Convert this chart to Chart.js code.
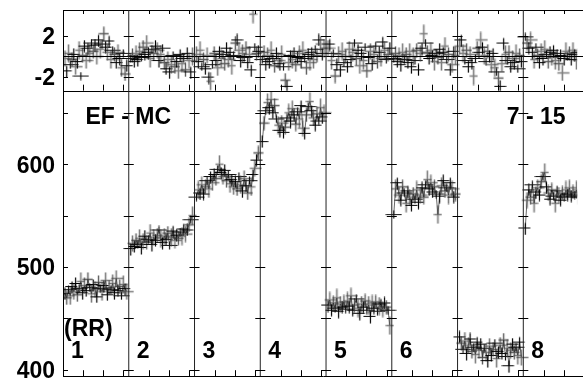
<!DOCTYPE html>
<html><head><meta charset="utf-8">
<script src="https://cdn.jsdelivr.net/npm/chart.js@4/dist/chart.umd.min.js"></script>
<style>html,body{margin:0;padding:0;background:#fff;overflow:hidden}canvas{display:block}</style>
</head><body>
<canvas id="c" width="583" height="382"></canvas>
<script>
// ---- data ----
const columnLabels = ['1','2','3','4','5','6','','8'];
const leftTickLabels = [400, 500, 600];
const leftTickMarks = [400, 450, 500, 550, 600, 650];
const topTickLabels = [-2, 2];
const titleLeft = 'EF - MC';
const titleRight = '7 - 15';
const subLabel = '(RR)';

const col1 = [474,470,478,472,481,476,484,473,479,486,475,482,477,488,480,474,483,478,471,485,479,476,482,487,473,480,478,484,475,489,477,481,472,483,479,476];
const col2 = [518,523,520,526,522,528,519,525,530,524,527,533,522,529,526,531,536,528,524,530,527,533,521,529,535,526,531,528,534,530,537,532,536,541,546,550];
const col3 = [568,575,572,580,571,578,584,576,588,582,590,586,595,600,592,588,594,584,590,581,585,578,583,576,588,580,574,586,579,572,584,578,590,596,604,611];
const col4 = [622,640,652,660,655,663,650,657,644,638,633,640,631,636,645,650,642,654,648,639,651,644,657,635,630,648,656,661,652,645,638,649,642,655,646,650];
const col5 = [463,468,458,465,460,470,457,464,461,466,459,467,462,472,458,463,469,460,455,464,461,467,458,463,452,465,460,466,457,462,464,459,465,461,458,443];
const col6 = [551,576,582,570,565,578,572,562,574,568,560,571,566,575,563,570,577,568,580,585,576,582,573,578,571,551,569,579,584,574,577,570,582,576,568,571];
const col7 = [432,426,420,428,416,424,430,418,422,415,427,419,425,412,421,417,409,423,414,420,426,411,418,424,416,429,413,421,404,419,425,417,422,414,427,412];
const col8 = [538,565,575,568,580,562,573,577,570,583,588,592,578,572,566,575,569,562,574,570,565,572,568,575,571,577,569,573,570,575,568,572,576,570,574,571];

const res1 = [-0.2,-1.4,0.3,-0.8,-0.3,0.2,-1.0,-0.5,0.6,-1.9,0.1,1.0,-0.4,0.8,0.3,1.3,0.5,1.1,0.0,1.6,0.7,1.2,2.2,0.9,0.4,1.5,-0.3,0.6,0.2,-0.6,0.4,-0.2,-1.1,0.3,-1.7,-0.9];
const res2 = [-0.2,0.1,-0.5,0.3,-0.3,0.5,-0.1,0.9,0.2,1.3,0.4,-0.2,0.7,0.3,1.0,0.6,-0.4,0.2,0.8,-0.6,-1.2,-0.3,-1.5,-0.8,0.1,-1.0,-0.5,-1.4,0.2,-0.7,-0.2,-1.3,0.3,-0.4,-1.5,0.0];
const res3 = [0.2,-0.5,0.6,-1.0,-0.3,-1.2,0.1,-2.0,-2.4,-0.8,0.3,-0.4,-1.1,0.5,-0.2,0.2,-0.7,0.8,-0.3,0.4,-0.9,0.1,1.3,1.6,0.6,-0.4,0.3,-0.1,0.8,-0.6,0.2,-1.3,4.1,0.9,0.3,0.5];
const res4 = [-0.3,0.4,-0.8,0.1,-0.5,0.6,-0.2,-0.9,0.3,-0.4,-0.7,0.2,-1.0,-2.3,-2.9,-0.6,0.1,-0.3,0.5,-0.8,-0.1,0.3,-0.5,0.6,-0.2,-1.1,0.2,-0.6,0.4,-0.3,0.7,0.1,1.6,1.2,0.3,0.8];
const res5 = [0.8,1.2,-0.4,0.3,-1.9,-0.8,0.2,-1.3,0.5,-0.6,0.0,-1.0,0.7,-0.3,0.4,1.3,-0.2,0.6,-0.9,0.3,-0.4,0.9,-1.4,-0.1,0.5,-0.7,0.2,1.0,-0.5,0.4,-0.2,1.4,0.6,-0.3,0.2,0.8];
const res6 = [-0.2,0.3,-0.5,0.1,-0.8,0.4,-0.3,0.2,-0.6,0.5,-1.0,0.0,-0.4,0.6,-1.3,0.3,0.8,2.2,1.3,0.4,-0.2,0.6,0.1,-0.5,0.3,-0.1,0.7,-0.6,0.4,1.0,-0.3,0.2,-1.3,-0.8,0.5,0.1];
const res7 = [1.0,1.6,0.3,-0.4,0.6,-1.0,0.2,-0.6,-1.9,-0.2,0.8,0.4,1.6,0.9,0.1,-0.5,0.5,0.0,-0.8,0.3,-1.1,-1.5,-2.1,-2.9,-0.7,1.3,0.2,-0.4,0.4,-1.0,-0.2,-0.6,0.3,-1.2,0.1,-0.5];
const res8 = [1.9,1.3,0.8,1.6,0.4,-0.3,0.9,0.1,-0.6,0.5,-0.2,0.7,0.2,-0.5,0.4,-0.1,0.6,-0.4,0.3,-0.7,0.1,-1.6,-0.2,0.5,0.0,0.3,-0.3,0.6,0.2,-0.4,0.4,0.1,-0.2,0.5,0.0,0.3];

// ---- styling helpers ----
const levels = [col1,col2,col3,col4,col5,col6,col7,col8];
const resids = [res1,res2,res3,res4,res5,res6,res7,res8];
const FONT = 'bold 23px "Liberation Sans", Arial, sans-serif';

function makeCross(hl, hr, vt, vb, color, lw) {
  const cv = document.createElement('canvas');
  const w = Math.max(hl, hr) * 2 + 1, h = Math.max(vt, vb) * 2 + 1;
  cv.width = w; cv.height = h;
  const g = cv.getContext('2d');
  const cx = (w - 1) / 2 + 0.5, cy = (h - 1) / 2 + 0.5;
  g.strokeStyle = color; g.lineWidth = lw;
  g.beginPath();
  g.moveTo(cx - hl, cy); g.lineTo(cx + hr, cy);
  g.moveTo(cx, cy - vt); g.lineTo(cx, cy + vb);
  g.stroke();
  return cv;
}
const marks = [
  makeCross(6, 6, 6, 6, '#000', 1.2),
  makeCross(5, 7, 8, 8, 'rgba(70,70,70,0.7)', 1.6),
  makeCross(7, 5, 5, 7, '#000', 1.2),
  makeCross(4, 4, 9, 9, 'rgba(70,70,70,0.7)', 1.6),
  makeCross(8, 8, 4, 4, '#111', 1.2),
  makeCross(5, 5, 7, 7, 'rgba(50,50,50,0.8)', 1.4)
];

function toPoints(arr, c) {
  return arr.map((v, i) => ({ x: c + 0.03 + 0.94 * i / (arr.length - 1), y: v }));
}

const datasets = [];
levels.forEach((arr, c) => {
  datasets.push({
    data: toPoints(arr, c), yAxisID: 'y', xAxisID: 'x',
    showLine: true, borderColor: '#000', borderWidth: 0.6, tension: 0, fill: false,
    pointRadius: 5,
    pointStyle: (ctx) => marks[(ctx.dataIndex * 5 + c * 2) % marks.length]
  });
});
resids.forEach((arr, c) => {
  datasets.push({
    data: toPoints(arr, c), yAxisID: 'y2', xAxisID: 'x',
    showLine: false, borderColor: '#000', borderWidth: 0.8, fill: false,
    pointRadius: 5,
    pointStyle: (ctx) => marks[(ctx.dataIndex * 7 + c * 3 + 1) % marks.length]
  });
});

const xTickFracs = [0.31, 0.615, 0.92];

const framePlugin = {
  id: 'frame',
  afterDatasetsDraw(chart) {
    const ctx = chart.ctx, X = chart.scales.x, Y = chart.scales.y, Y2 = chart.scales.y2;
    const ca = chart.chartArea;
    const top = Y2.top, mid = Y.top, bot = Y.bottom, left = ca.left, right = ca.right + 20;
    const r = v => Math.round(v) + 0.5;
    ctx.save();
    ctx.strokeStyle = '#000';
    ctx.lineWidth = 1;
    ctx.beginPath();
    [top, mid, bot].forEach(yy => { ctx.moveTo(left, r(yy)); ctx.lineTo(right, r(yy)); });
    ctx.moveTo(r(left), top); ctx.lineTo(r(left), bot);
    const z = Y2.getPixelForValue(0);
    ctx.moveTo(left, r(z)); ctx.lineTo(right, r(z));
    ctx.stroke();
    ctx.strokeStyle = '#222';
    ctx.beginPath();
    for (let c = 1; c < 8; c++) {
      const sx = X.getPixelForValue(c);
      ctx.moveTo(sx, top); ctx.lineTo(sx, bot);
    }
    ctx.stroke();
    ctx.strokeStyle = '#000';
    ctx.beginPath();
    for (let c = 0; c < 8; c++) {
      xTickFracs.forEach(f => {
        const px = r(X.getPixelForValue(c + f));
        ctx.moveTo(px, top); ctx.lineTo(px, top + 4);
        ctx.moveTo(px, mid - 6); ctx.lineTo(px, mid);
        ctx.moveTo(px, bot - 6); ctx.lineTo(px, bot);
      });
    }
    const yTick = (py) => {
      py = r(py);
      ctx.moveTo(left, py); ctx.lineTo(left + 5, py);
      for (let c = 1; c < 8; c++) {
        const sx = X.getPixelForValue(c);
        ctx.moveTo(sx - 5, py); ctx.lineTo(sx + 5, py);
      }
    };
    leftTickMarks.forEach(v => yTick(Y.getPixelForValue(v)));
    topTickLabels.forEach(v => yTick(Y2.getPixelForValue(v)));
    ctx.stroke();
    ctx.restore();
  },
  afterDraw(chart) {
    const ctx = chart.ctx, X = chart.scales.x;
    ctx.save();
    ctx.fillStyle = '#000';
    ctx.font = FONT;
    ctx.textAlign = 'left';
    ctx.textBaseline = 'alphabetic';
    ctx.fillText(titleLeft, X.getPixelForValue(0) + 22.5, 124);
    ctx.fillText(titleRight, X.getPixelForValue(7) - 16.5, 124);
    ctx.fillText(subLabel, X.getPixelForValue(0) + 1, 336);
    columnLabels.forEach((t, c) => {
      if (t) ctx.fillText(t, X.getPixelForValue(c) + 8, 358);
    });
    ctx.restore();
  }
};

const tickFont = { family: '"Liberation Sans", Arial, sans-serif', size: 23, weight: 'bold' };

new Chart(document.getElementById('c'), {
  type: 'line',
  data: { datasets },
  options: {
    responsive: false, animation: false, devicePixelRatio: 1,
    layout: { padding: { top: 10, bottom: 3, left: 0, right: 0 } },
    plugins: { legend: { display: false }, tooltip: { enabled: false } },
    events: [],
    scales: {
      x: { type: 'linear', min: 0, max: 520 / 66.5, display: false },
      y: {
        type: 'linear', position: 'left', stack: 'panels', stackWeight: 287.7,
        min: 393.8, max: 671.5,
        border: { display: false }, grid: { display: false, drawTicks: false },
        ticks: { color: '#000', font: tickFont, padding: 8, autoSkip: false, labelOffset: 2 },
        afterBuildTicks: s => { s.ticks = leftTickLabels.map(v => ({ value: v })); },
        afterFit: s => { s.width = 63; s.paddingTop = 0; s.paddingBottom = 0; }
      },
      y2: {
        type: 'linear', position: 'left', stack: 'panels', stackWeight: 81.3,
        min: -3.32, max: 4.5,
        border: { display: false }, grid: { display: false, drawTicks: false },
        ticks: { color: '#000', font: tickFont, padding: 8, autoSkip: false, labelOffset: 2 },
        afterBuildTicks: s => { s.ticks = topTickLabels.map(v => ({ value: v })); },
        afterFit: s => { s.width = 63; s.paddingTop = 0; s.paddingBottom = 0; }
      }
    }
  },
  plugins: [framePlugin]
});
</script>
</body></html>
